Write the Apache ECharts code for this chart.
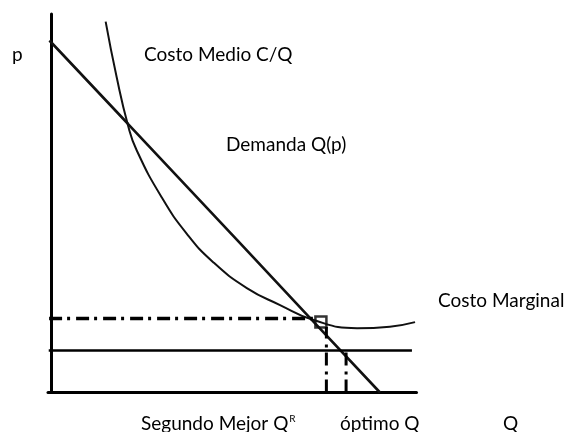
<!DOCTYPE html>
<html><head><meta charset="utf-8">
<script src="https://cdn.jsdelivr.net/npm/echarts@6/dist/echarts.min.js"></script>
<style>html,body{margin:0;padding:0;background:#fff}#c{width:566px;height:432px}</style>
</head><body><div id="c"></div>
<script>
// Demand curve Q(p): [Q, p]
var demand = [[-0.6,93],[20.9,71.0],[50.8,40.3],[71.3,19.2],[90,0]];
// Average cost C/Q: [Q, p]
var avgCost = [[14.8,98],[17.8,83.4],[20.9,70.7],[23.3,64.0],[30.2,51.5],[37,42],[44.2,34.5],[53.5,27.6],[62.6,23.1],[71.6,19.2],[83.7,17],[92.7,17.4],[99.6,18.6]];
// Marginal cost level (horizontal)
var marginalCost = [[-0.8,11.1],[98.75,11.1]];
// Second-best price level (dash-dot)
var secondBestPrice = [[-0.7,19.55],[71.6,19.55]];
// Second-best quantity Q^R (dash-dot vertical)
var secondBestQ = [[75.3,0],[75.3,17.3]];
// Optimum quantity Q (dash-dot vertical)
var optimumQ = [[80.7,0],[80.7,11.1]];
// Second-best point marker
var secondBestPoint = [[73.8,18.6]];

var FONT = 'Lato, "Open Sans", sans-serif';
var fs = 19;
function label(text, x, y) {
  return {type:'text', left:x, top:y, style:{text:text, font: fs+'px ' + FONT, fill:'#000',
    rich:{sup:{fontSize:10, fontFamily:FONT, verticalAlign:'top', padding:[0,0,4,1]}}}};
}
var chart = echarts.init(document.getElementById('c'));
chart.setOption({
  animation:false,
  grid:{left:48, right:149.5, top:14, bottom:39.5},
  xAxis:{type:'value', min:-1, max:100, axisLine:{onZero:true, lineStyle:{color:'#000', width:3}}, axisTick:{show:false}, axisLabel:{show:false}, splitLine:{show:false}},
  yAxis:{type:'value', min:0, max:100, axisLine:{onZero:true, lineStyle:{color:'#000', width:3}}, axisTick:{show:false}, axisLabel:{show:false}, splitLine:{show:false}},
  series:[
    {type:'line', data:demand, smooth:false, symbol:'none', lineStyle:{color:'#111', width:2.6}},
    {type:'line', data:avgCost, smooth:0.5, symbol:'none', lineStyle:{color:'#111', width:2}},
    {type:'line', data:marginalCost, symbol:'none', lineStyle:{color:'#000', width:2.6}},
    {type:'line', data:secondBestPrice, symbol:'none', lineStyle:{color:'#000', width:3.5, type:[13,5,3,6]}},
    {type:'line', data:secondBestQ, symbol:'none', lineStyle:{color:'#000', width:3, type:[13,5,3,6]}},
    {type:'line', data:optimumQ, symbol:'none', lineStyle:{color:'#000', width:3, type:[13,5,3,6]}},
    {type:'scatter', data:secondBestPoint, symbol:'rect', symbolSize:11, itemStyle:{color:'rgba(0,0,0,0)', borderColor:'#000', borderWidth:2.5}}
  ],
  graphic:[
    label('p', 12, 45),
    label('Costo Medio C/Q', 144, 45),
    label('Demanda Q(p)', 226, 135),
    label('Costo Marginal', 438, 291),
    label('Segundo Mejor Q{sup|R}', 141, 414),
    label('óptimo Q', 340, 414),
    label('Q', 503, 414)
  ]
});
</script></body></html>
